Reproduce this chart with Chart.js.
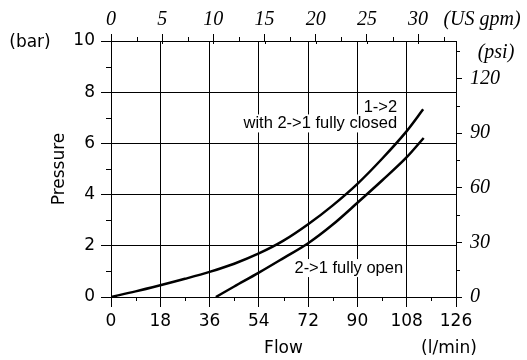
<!DOCTYPE html>
<html>
<head>
<meta charset="utf-8">
<script src="https://cdn.jsdelivr.net/npm/chart.js@4.4.0/dist/chart.umd.min.js"></script>
<style>
  html, body { margin: 0; padding: 0; background: #fff; }
</style>
</head>
<body>
<canvas id="flowChart" width="527" height="360"></canvas>
<script>
// flow (l/min) vs pressure drop (bar)
const closedFlow = [0, 9, 18, 27, 36, 45, 54, 63, 72, 81, 90, 99, 108, 114];
const closedBar  = [0, 0.22, 0.46, 0.71, 0.98, 1.30, 1.70, 2.20, 2.84, 3.58, 4.42, 5.40, 6.48, 7.33];
const openFlow = [38.3, 45, 54, 63, 72, 81, 90, 99, 108, 114.2];
const openBar  = [0, 0.41, 0.95, 1.52, 2.10, 2.83, 3.68, 4.55, 5.46, 6.21];

// secondary axes, as drawn on the original sheet
const GPM_MAX = 33.7;
const PSI_MAX = 140.5;
const FLOW_MAX = 126, BAR_MAX = 10;

const sans = 'DejaVu Sans';
const serif = 'Liberation Serif';

const toPoints = (xs, ys) => xs.map((v, i) => ({ x: v, y: ys[i] }));

// fixed axis box sizes so the plot sits where the original one does
const fit = size => scale => {
  if (scale.isHorizontal()) scale.height = size; else scale.width = size;
};
// keep only ticks on the step (drop the odd max value)
const onStep = step => scale => {
  scale.ticks = scale.ticks.filter(t => Math.abs(t.value / step - Math.round(t.value / step)) < 1e-6);
};

// minor ticks, labels and axis titles
const extras = {
  id: 'extras',
  afterDraw(chart) {
    const ctx = chart.ctx;
    const { x, y, x2, y2 } = chart.scales;
    const area = chart.chartArea;
    ctx.save();
    ctx.strokeStyle = '#000';
    ctx.lineWidth = 1;
    const seg = (a, b, c, d) => { ctx.beginPath(); ctx.moveTo(a, b); ctx.lineTo(c, d); ctx.stroke(); };
    for (let v = 9; v < FLOW_MAX; v += 18) {
      const px = Math.round(x.getPixelForValue(v)) + 0.5;
      seg(px, area.bottom, px, area.bottom + 4);
    }
    for (let v = 1; v < BAR_MAX; v += 2) {
      const py = Math.round(y.getPixelForValue(v)) + 0.5;
      seg(area.left - 5, py, area.left, py);
    }
    for (let v = 2.5; v < x2.max; v += 5) {
      const px = Math.round(x2.getPixelForValue(v)) + 0.5;
      seg(px, area.top, px, area.top - 4);
    }
    for (let v = 0; v <= 30; v += 5) {   // gpm ticks cross the top line a little
      const px = Math.round(x2.getPixelForValue(v)) + 0.5;
      seg(px, area.top, px, area.top + 3);
    }
    for (let v = 15; v < y2.max; v += 30) {
      const py = Math.round(y2.getPixelForValue(v)) + 0.5;
      seg(area.right, py, area.right + 4, py);
    }

    // curve labels with white boxes behind them
    const label = (text, fx, by, align) => {
      ctx.font = '16.5px "Liberation Sans"';
      const w = ctx.measureText(text).width;
      const px = x.getPixelForValue(fx), py = y.getPixelForValue(by);
      const left = align === 'right' ? px - w : px;
      ctx.fillStyle = '#fff';
      ctx.fillRect(left - 2, py - 9, w + 4, 18);
      ctx.fillStyle = '#000';
      ctx.textAlign = align;
      ctx.textBaseline = 'middle';
      ctx.fillText(text, px, py);
    };
    label('1->2', 104.5, 7.42, 'right');
    label('with 2->1 fully closed', 104.5, 6.78, 'right');
    label('2->1 fully open', 67.0, 1.13, 'left');

    ctx.fillStyle = '#000';
    ctx.textBaseline = 'middle';
    ctx.font = '17px "' + sans + '"';
    ctx.textAlign = 'center';
    ctx.fillText('Flow', (area.left + area.right) / 2, 349);
    ctx.fillText('(l/min)', 449, 349);
    ctx.fillText('(bar)', 30, area.top + 2);
    ctx.save();
    ctx.translate(60, (area.top + area.bottom) / 2);
    ctx.rotate(-Math.PI / 2);
    ctx.fillText('Pressure', 0, 0);
    ctx.restore();
    ctx.font = 'italic 20px "' + serif + '"';
    ctx.fillText('(US gpm)', 482, 20);
    ctx.fillText('(psi)', 496, 53);
    ctx.restore();
  }
};

const sansTicks = { family: sans, size: 17 };
const serifTicks = { family: serif, size: 20, style: 'italic' };

new Chart(document.getElementById('flowChart'), {
  type: 'line',
  data: {
    datasets: [
      {
        label: '1->2 with 2->1 fully closed',
        data: toPoints(closedFlow, closedBar),
        borderColor: '#000',
        borderWidth: 2.5,
        pointRadius: 0,
        cubicInterpolationMode: 'monotone'
      },
      {
        label: '2->1 fully open',
        data: toPoints(openFlow, openBar),
        borderColor: '#000',
        borderWidth: 2.5,
        pointRadius: 0,
        cubicInterpolationMode: 'monotone'
      }
    ]
  },
  options: {
    responsive: false,
    animation: false,
    devicePixelRatio: 1,
    layout: { padding: 0 },
    plugins: { legend: { display: false }, tooltip: { enabled: false } },
    scales: {
      x: {
        type: 'linear', position: 'bottom', min: 0, max: FLOW_MAX,
        afterFit: fit(63),
        afterBuildTicks: onStep(18),
        ticks: { stepSize: 18, autoSkip: false, color: '#000', font: sansTicks, padding: 4, maxRotation: 0 },
        grid: { color: '#000', tickColor: '#000', tickLength: 10 },
        border: { color: '#000' }
      },
      y: {
        type: 'linear', position: 'left', min: 0, max: BAR_MAX,
        afterFit: fit(111),
        afterBuildTicks: onStep(2),
        ticks: { stepSize: 2, autoSkip: false, color: '#000', font: sansTicks, padding: 6 },
        grid: { color: '#000', tickColor: '#000', tickLength: 10 },
        border: { color: '#000' }
      },
      x2: {
        type: 'linear', position: 'top', min: 0, max: GPM_MAX,
        afterFit: fit(41),
        afterBuildTicks: onStep(5),
        ticks: { stepSize: 5, includeBounds: false, autoSkip: false, color: '#000', font: serifTicks, padding: 2, maxRotation: 0 },
        grid: { drawOnChartArea: false, tickColor: '#000', tickLength: 7 },
        border: { color: '#000' }
      },
      y2: {
        type: 'linear', position: 'right', min: 0, max: PSI_MAX,
        afterFit: fit(71),
        afterBuildTicks: onStep(30),
        ticks: { stepSize: 30, includeBounds: false, autoSkip: false, color: '#000', font: serifTicks, padding: 8 },
        grid: { drawOnChartArea: false, tickColor: '#000', tickLength: 6 },
        border: { color: '#000' }
      }
    }
  },
  plugins: [extras]
});
</script>
</body>
</html>
